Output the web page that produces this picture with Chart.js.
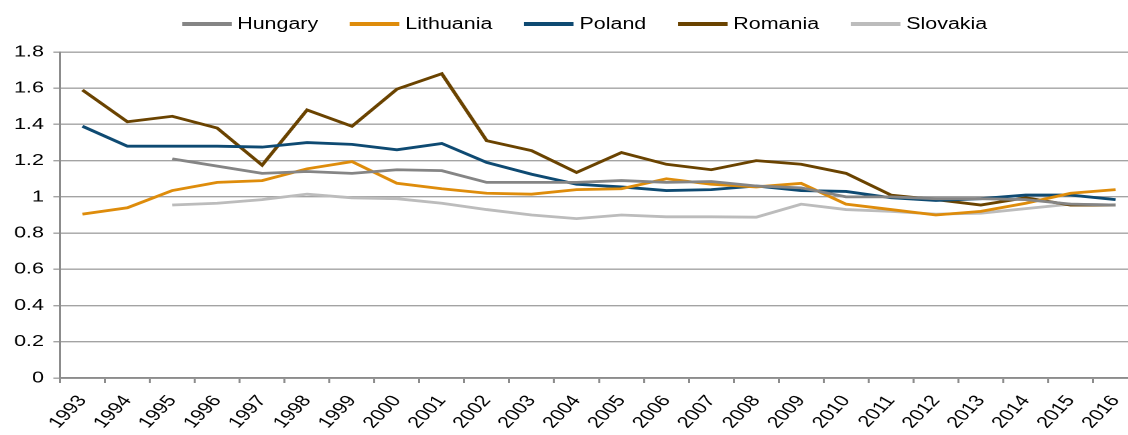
<!DOCTYPE html>
<html>
<head>
<meta charset="utf-8">
<title>Hungary, Lithuania, Poland, Romania, Slovakia 1993-2016</title>
<script src="https://cdn.jsdelivr.net/npm/chart.js@4.4.1/dist/chart.umd.min.js"></script>
<style>
  html, body { margin: 0; padding: 0; background: #fff; overflow: hidden; }
  /* the reference is horizontally stretched, so draw narrow and stretch the whole thing */
  #wrap { position: relative; width: 852px; height: 435px; transform: scaleX(1.34); transform-origin: 0 0; }
  #legend { position: absolute; top: 14px; left: 136px; display: flex; align-items: center;
            font: 16px "Liberation Sans", Arial, sans-serif; color: #000; line-height: 20px; }
  #legend .item { display: flex; align-items: center; margin-right: 24px; }
  #legend .swatch { width: 37px; height: 4px; margin-right: 4px; }
  canvas { position: absolute; left: 0; top: 0; }
</style>
</head>
<body>
<div id="wrap">
  <div id="legend"></div>
  <canvas id="chart" width="852" height="435"></canvas>
</div>
<script>
const years = ['1993', '1994', '1995', '1996', '1997', '1998', '1999', '2000', '2001', '2002', '2003', '2004',
  '2005', '2006', '2007', '2008', '2009', '2010', '2011', '2012', '2013', '2014', '2015', '2016'];

const hungary   = [null, null, 1.21, 1.17, 1.13, 1.14, 1.13, 1.15, 1.145, 1.08, 1.08, 1.08,
  1.09, 1.08, 1.085, 1.06, 1.05, 1.0, 1.0, 0.99, 0.99, 0.985, 0.96, 0.955];
const lithuania = [0.905, 0.94, 1.035, 1.08, 1.09, 1.155, 1.195, 1.075, 1.045, 1.02, 1.015, 1.04,
  1.045, 1.10, 1.07, 1.055, 1.075, 0.96, 0.93, 0.90, 0.92, 0.965, 1.02, 1.04];
const poland    = [1.39, 1.28, 1.28, 1.28, 1.275, 1.30, 1.29, 1.26, 1.295, 1.19, 1.125, 1.07,
  1.055, 1.035, 1.04, 1.06, 1.035, 1.03, 0.995, 0.98, 0.99, 1.01, 1.01, 0.985];
const romania   = [1.59, 1.415, 1.445, 1.38, 1.175, 1.48, 1.39, 1.595, 1.68, 1.31, 1.255, 1.135,
  1.245, 1.18, 1.15, 1.2, 1.18, 1.13, 1.01, 0.985, 0.955, 0.995, 0.955, 0.955];
const slovakia  = [null, null, 0.955, 0.965, 0.985, 1.015, 0.995, 0.99, 0.965, 0.93, 0.9, 0.88,
  0.9, 0.89, 0.89, 0.888, 0.96, 0.93, 0.92, 0.905, 0.91, 0.935, 0.96, 0.955];

const yTickLabels = ['0', '0.2', '0.4', '0.6', '0.8', '1', '1.2', '1.4', '1.6', '1.8'];

const seriesNames = ['Hungary', 'Lithuania', 'Poland', 'Romania', 'Slovakia'];
const seriesData = [hungary, lithuania, poland, romania, slovakia];
const seriesColors = ['#858585', '#DE8C0B', '#0E4A72', '#6A4300', '#BCBCBC'];

const FONT = '"Liberation Sans", Arial, sans-serif';

// html legend (chart.js legend can't leave the gap the reference has)
const legendEl = document.getElementById('legend');
seriesNames.forEach((name, i) => {
  const item = document.createElement('div');
  item.className = 'item';
  const sw = document.createElement('span');
  sw.className = 'swatch';
  sw.style.background = seriesColors[i];
  const label = document.createElement('span');
  label.textContent = name;
  item.appendChild(sw);
  item.appendChild(label);
  legendEl.appendChild(item);
});

const datasets = seriesNames.map((name, i) => ({
  label: name,
  data: seriesData[i],
  borderColor: seriesColors[i],
  backgroundColor: seriesColors[i],
  borderWidth: 2.8,
  pointRadius: 0,
  tension: 0,
  fill: false,
}));

new Chart(document.getElementById('chart'), {
  type: 'line',
  data: { labels: years, datasets: datasets },
  options: {
    responsive: false,
    animation: false,
    devicePixelRatio: 2,
    layout: { padding: { top: 52, right: 2.75, left: 0, bottom: 0 } },
    plugins: {
      legend: { display: false },
      tooltip: { enabled: false },
    },
    scales: {
      x: {
        type: 'category',
        offset: true,
        grid: {
          offset: true,
          drawOnChartArea: false,
          drawTicks: true,
          tickLength: 5,
          color: '#8c8c8c',
          lineWidth: 1.5,
        },
        border: { color: '#8c8c8c', width: 1.8 },
        ticks: {
          autoSkip: false,
          minRotation: 53,
          maxRotation: 53,
          padding: 9,
          color: '#000',
          font: { family: FONT, size: 16 },
        },
        afterFit(scale) {
          scale.height = 57;
          scale.paddingLeft = 0;
          scale.paddingRight = 0;
        },
      },
      y: {
        min: 0,
        max: 1.8,
        grid: {
          color: '#a3a3a3',
          lineWidth: 1.4,
          tickLength: 5,
        },
        border: { color: '#8c8c8c', width: 1.5 },
        ticks: {
          stepSize: 0.2,
          padding: 7,
          color: '#000',
          font: { family: FONT, size: 16 },
          callback: (value, index) => yTickLabels[index],
        },
        afterFit(scale) {
          scale.width = 60 / 1.34;
        },
      },
    },
  },
});
</script>
</body>
</html>
